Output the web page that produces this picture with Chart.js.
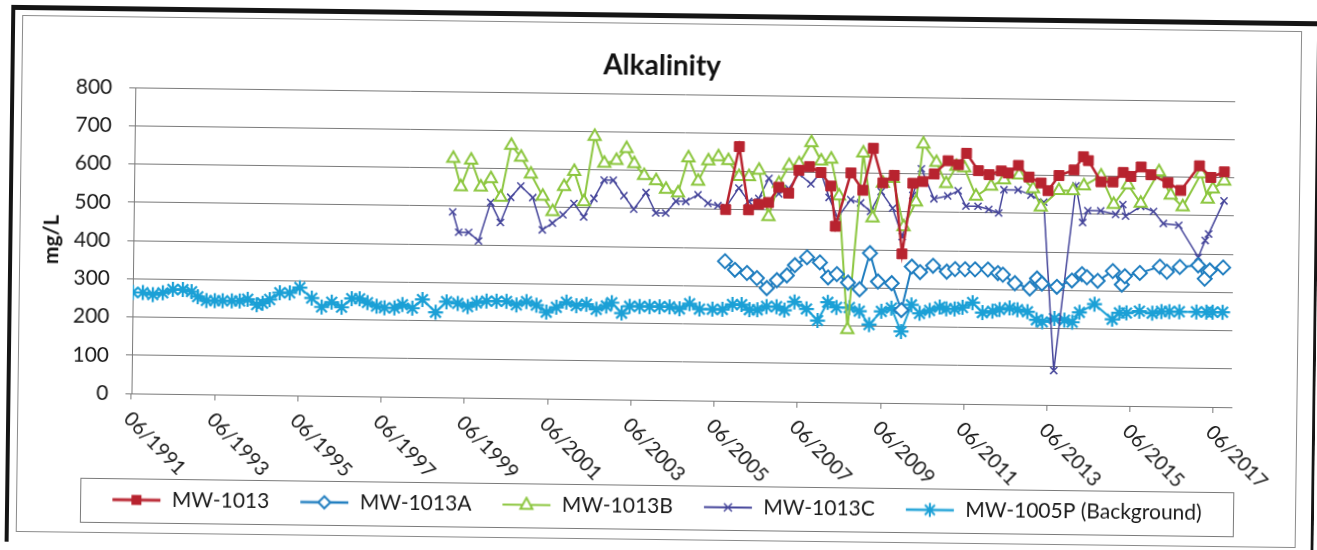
<!DOCTYPE html>
<html>
<head>
<meta charset="utf-8">
<title>Alkalinity</title>
<script src="https://cdn.jsdelivr.net/npm/chart.js@4.4.1/dist/chart.umd.min.js"></script>
<style>
  html, body { margin: 0; padding: 0; background: #fff; overflow: hidden; }
  /* the scanned page is a little skewed, so the whole chart is turned slightly */
  #wrap { position: absolute; left: 0; top: 0; width: 1317px; height: 550px;
          transform: rotate(0.72deg); transform-origin: 658px 275px; }
  canvas { display: block; }
</style>
</head>
<body>
<div id="wrap"><canvas id="chart" width="1317" height="550"></canvas></div>
<script>
// x axis tick labels (MM/YYYY)
const tickLabels = ['06/1991', '06/1993', '06/1995', '06/1997', '06/1999', '06/2001', '06/2003',
                    '06/2005', '06/2007', '06/2009', '06/2011', '06/2013', '06/2015', '06/2017'];

// sample dates are decimal years
const mw1013Dates = [2005.64, 2005.95, 2006.19, 2006.43, 2006.67, 2006.91, 2007.15, 2007.39, 2007.64, 2007.92,
  2008.16, 2008.28, 2008.64, 2008.93, 2009.17, 2009.41, 2009.68, 2009.89, 2010.13, 2010.37,
  2010.64, 2010.97, 2011.22, 2011.41, 2011.70, 2011.96, 2012.25, 2012.42, 2012.66, 2012.92,
  2013.21, 2013.38, 2013.64, 2014.00, 2014.22, 2014.34, 2014.65, 2014.94, 2015.18, 2015.37,
  2015.61, 2015.85, 2016.26, 2016.57, 2017.01, 2017.29, 2017.61];
const mw1013Values = [500, 665, 500, 515, 520, 560, 545, 605, 615, 600,
  565, 460, 600, 555, 665, 575, 595, 390, 575, 580,
  600, 635, 625, 655, 610, 600, 610, 605, 625, 595,
  580, 560, 600, 615, 650, 640, 585, 585, 610, 600,
  625, 605, 585, 565, 630, 600, 615];

const mw1013ADates = [2005.64, 2005.88, 2006.17, 2006.41, 2006.65, 2006.89, 2007.13, 2007.32, 2007.61, 2007.92,
  2008.12, 2008.33, 2008.60, 2008.88, 2009.12, 2009.32, 2009.65, 2009.89, 2010.13, 2010.33,
  2010.64, 2010.97, 2011.17, 2011.41, 2011.65, 2011.96, 2012.20, 2012.32, 2012.61, 2012.97,
  2013.14, 2013.26, 2013.62, 2013.98, 2014.22, 2014.34, 2014.60, 2014.96, 2015.18, 2015.25,
  2015.61, 2016.09, 2016.26, 2016.57, 2017.01, 2017.17, 2017.29, 2017.61];
const mw1013AValues = [365, 343, 335, 322, 296, 317, 330, 357, 378, 365,
  326, 335, 313, 296, 391, 317, 313, 243, 357, 343,
  360, 345, 352, 352, 352, 352, 343, 339, 317, 304,
  330, 317, 309, 326, 343, 335, 326, 352, 317, 339,
  348, 365, 352, 365, 370, 335, 357, 365];

const mw1013BDates = [1999.08, 1999.27, 1999.51, 1999.75, 1999.99, 2000.23, 2000.47, 2000.71, 2000.95, 2001.24,
  2001.48, 2001.75, 2001.99, 2002.23, 2002.47, 2002.71, 2003.00, 2003.24, 2003.43, 2003.67,
  2003.96, 2004.20, 2004.49, 2004.73, 2004.97, 2005.21, 2005.45, 2005.69, 2005.95, 2006.19,
  2006.43, 2006.67, 2006.91, 2007.15, 2007.39, 2007.68, 2007.92, 2008.16, 2008.36, 2008.60,
  2008.93, 2009.17, 2009.41, 2009.65, 2009.92, 2010.21, 2010.37, 2010.69, 2010.93, 2011.17,
  2011.36, 2011.65, 2012.01, 2012.32, 2012.68, 2013.02, 2013.21, 2013.64, 2013.98, 2014.24,
  2014.65, 2014.96, 2015.30, 2015.61, 2016.04, 2016.33, 2016.62, 2017.05, 2017.22, 2017.34,
  2017.61];
const mw1013BValues = [625, 551, 621, 551, 573, 525, 661, 630, 586, 529,
  489, 555, 595, 516, 687, 617, 625, 656, 617, 586,
  573, 551, 542, 634, 573, 627, 638, 628, 587, 587,
  604, 483, 570, 617, 622, 678, 630, 635, 539, 190,
  652, 483, 574, 587, 461, 526, 678, 630, 575, 620,
  617, 543, 570, 587, 600, 565, 517, 561, 561, 574,
  600, 526, 578, 530, 613, 552, 522, 609, 543, 570,
  591];

const mw1013CDates = [1999.08, 1999.23, 1999.47, 1999.71, 1999.99, 2000.23, 2000.47, 2000.71, 2001.00, 2001.24,
  2001.48, 2001.73, 2001.99, 2002.23, 2002.47, 2002.71, 2002.93, 2003.19, 2003.43, 2003.72,
  2003.96, 2004.20, 2004.44, 2004.68, 2004.97, 2005.21, 2005.45, 2005.64, 2005.95, 2006.19,
  2006.43, 2006.67, 2006.91, 2007.15, 2007.39, 2007.68, 2007.92, 2008.12, 2008.33, 2008.64,
  2008.88, 2009.12, 2009.37, 2009.65, 2009.89, 2010.13, 2010.33, 2010.64, 2010.97, 2011.22,
  2011.41, 2011.70, 2011.96, 2012.20, 2012.32, 2012.66, 2012.97, 2013.28, 2013.57, 2014.05,
  2014.22, 2014.34, 2014.65, 2015.01, 2015.18, 2015.25, 2015.61, 2015.92, 2016.16, 2016.53,
  2017.01, 2017.17, 2017.25, 2017.61];
const mw1013CValues = [485, 432, 432, 410, 511, 459, 525, 555, 525, 441,
  459, 481, 511, 476, 525, 573, 573, 533, 498, 542,
  489, 489, 520, 520, 538, 516, 510, 506, 557, 522,
  530, 583, 543, 557, 596, 570, 600, 535, 483, 530,
  522, 500, 552, 509, 435, 543, 613, 535, 543, 557,
  517, 517, 509, 500, 561, 561, 548, 530, 90, 574,
  478, 509, 509, 500, 526, 496, 522, 509, 478, 474,
  391, 435, 452, 539];

const mw1005PDates = [1991.42, 1991.66, 1991.90, 1992.14, 1992.38, 1992.62, 1992.83, 1992.98, 1993.19, 1993.39,
  1993.58, 1993.80, 1993.99, 1994.18, 1994.40, 1994.54, 1994.71, 1994.95, 1995.19, 1995.43,
  1995.72, 1995.96, 1996.20, 1996.44, 1996.68, 1996.87, 1997.06, 1997.28, 1997.47, 1997.71,
  1997.90, 1998.14, 1998.38, 1998.70, 1998.96, 1999.23, 1999.47, 1999.68, 1999.92, 2000.16,
  2000.40, 2000.64, 2000.88, 2001.12, 2001.36, 2001.60, 2001.84, 2002.08, 2002.32, 2002.56,
  2002.80, 2002.93, 2003.17, 2003.36, 2003.60, 2003.84, 2004.08, 2004.32, 2004.56, 2004.80,
  2005.04, 2005.35, 2005.59, 2005.83, 2006.05, 2006.24, 2006.43, 2006.65, 2006.89, 2007.08,
  2007.32, 2007.61, 2007.88, 2008.12, 2008.33, 2008.64, 2008.88, 2009.12, 2009.41, 2009.65,
  2009.89, 2010.13, 2010.33, 2010.57, 2010.81, 2010.97, 2011.17, 2011.36, 2011.60, 2011.84,
  2012.08, 2012.25, 2012.49, 2012.68, 2012.92, 2013.14, 2013.28, 2013.57, 2013.81, 2014.00,
  2014.17, 2014.53, 2014.96, 2015.13, 2015.30, 2015.61, 2015.92, 2016.14, 2016.33, 2016.57,
  2016.98, 2017.22, 2017.37, 2017.61];
const mw1005PValues = [264, 264, 259, 264, 273, 273, 268, 255, 245, 245,
  245, 245, 245, 250, 236, 240, 250, 268, 268, 282,
  255, 232, 245, 232, 255, 255, 245, 236, 232, 232,
  241, 232, 255, 222, 250, 246, 238, 248, 253, 253,
  253, 244, 253, 244, 226, 239, 253, 244, 248, 235,
  244, 253, 226, 244, 244, 244, 244, 244, 239, 253,
  239, 239, 239, 252, 252, 239, 239, 248, 248, 239,
  261, 243, 213, 261, 248, 248, 239, 204, 239, 248,
  187, 257, 235, 243, 252, 248, 248, 252, 265, 239,
  243, 248, 252, 248, 243, 222, 217, 226, 222, 217,
  243, 265, 226, 243, 243, 248, 243, 248, 248, 248,
  248, 248, 248, 248];

const seriesNames = ['MW-1013', 'MW-1013A', 'MW-1013B', 'MW-1013C', 'MW-1005P (Background)'];

const tickValues = tickLabels.map(function(t) {
    const parts = t.split('/');
    return Number(parts[1]) + (Number(parts[0]) - 1) / 12;
});

function points(dates, values) {
    return dates.map(function(d, i) { return { x: d, y: values[i] }; });
}

// little line + marker pictures for the legend
function legendSample(color, marker, lineWidth) {
    const c = document.createElement('canvas');
    c.width = 50;
    c.height = 18;
    const g = c.getContext('2d');
    const cx = 25, cy = 9;
    g.strokeStyle = color;
    g.lineWidth = lineWidth;
    g.beginPath();
    g.moveTo(1, cy);
    g.lineTo(49, cy);
    g.stroke();
    g.lineWidth = 2;
    g.fillStyle = '#fff';
    g.beginPath();
    if (marker === 'rect') {
        g.fillStyle = color;
        g.fillRect(cx - 5, cy - 5, 10, 10);
    } else if (marker === 'diamond') {
        g.moveTo(cx, cy - 6); g.lineTo(cx + 6, cy); g.lineTo(cx, cy + 6); g.lineTo(cx - 6, cy); g.closePath();
        g.fill(); g.stroke();
    } else if (marker === 'triangle') {
        g.moveTo(cx, cy - 7); g.lineTo(cx + 6, cy + 4); g.lineTo(cx - 6, cy + 4); g.closePath();
        g.fill(); g.stroke();
    } else if (marker === 'x') {
        g.lineWidth = 1.5;
        g.moveTo(cx - 4, cy - 4); g.lineTo(cx + 4, cy + 4);
        g.moveTo(cx + 4, cy - 4); g.lineTo(cx - 4, cy + 4);
        g.stroke();
    } else if (marker === 'star') {
        g.moveTo(cx - 5, cy - 5); g.lineTo(cx + 5, cy + 5);
        g.moveTo(cx + 5, cy - 5); g.lineTo(cx - 5, cy + 5);
        g.moveTo(cx, cy - 7); g.lineTo(cx, cy + 7);
        g.stroke();
    }
    return c;
}

const colRed = '#b8232f';
const colBlue = '#1f7dbf';
const colGreen = '#8cc63f';
const colNavy = '#45459a';
const colCyan = '#1ba0d6';

const legendSamples = [
    legendSample(colRed, 'rect', 3),
    legendSample(colBlue, 'diamond', 2.5),
    legendSample(colGreen, 'triangle', 2),
    legendSample(colNavy, 'x', 2),
    legendSample(colCyan, 'star', 2.5)
];

Chart.defaults.font.family = 'Lato';
Chart.defaults.color = '#1a1a1a';

const pagePlugin = {
    id: 'pagePlugin',
    beforeDraw(chart) {
        const ctx = chart.ctx;
        ctx.save();
        ctx.fillStyle = '#fff';
        ctx.fillRect(0, 0, chart.width, chart.height);
        // heavy outer frame of the scanned page
        ctx.fillStyle = '#151515';
        ctx.fillRect(8, 13, 4, chart.height);
        ctx.fillRect(8, 13, chart.width, 5);
        ctx.fillRect(1314, 13, 6, chart.height);
        // chart border
        ctx.strokeStyle = '#8a8a8a';
        ctx.lineWidth = 1;
        ctx.strokeRect(19.5, 23.5, 1279, 516);
        ctx.restore();
    },
    afterDraw(chart) {
        const ctx = chart.ctx;
        const area = chart.chartArea;
        const xs = chart.scales.x;
        ctx.save();
        // slanted date labels, reading down to the right
        ctx.font = '20px Lato';
        ctx.fillStyle = '#1a1a1a';
        ctx.textAlign = 'left';
        ctx.textBaseline = 'middle';
        tickLabels.forEach(function(lab, i) {
            const px = xs.getPixelForValue(tickValues[i]);
            ctx.save();
            ctx.translate(px - 4, area.bottom + 22);
            ctx.rotate(Math.PI / 4);
            ctx.fillText(lab, 0, 0);
            ctx.restore();
        });
        // box round the legend
        const lg = chart.legend;
        ctx.strokeStyle = '#7a7a7a';
        ctx.lineWidth = 1;
        ctx.strokeRect(Math.round(area.left - 50) + 0.5, Math.round(lg.top + 19) + 0.5,
                       Math.round(area.right - area.left + 53), 44);
        ctx.restore();
    }
};

const ctx = document.getElementById('chart').getContext('2d');
new Chart(ctx, {
    type: 'line',
    data: {
        datasets: [{
            label: seriesNames[0],
            data: points(mw1013Dates, mw1013Values),
            borderColor: colRed, backgroundColor: colRed, borderWidth: 2.5,
            pointStyle: 'rect', pointRadius: 7, pointBackgroundColor: colRed, pointBorderColor: colRed, pointBorderWidth: 1
        }, {
            label: seriesNames[1],
            data: points(mw1013ADates, mw1013AValues),
            borderColor: colBlue, backgroundColor: '#fff', borderWidth: 2,
            pointStyle: 'rectRot', pointRadius: 7, pointBackgroundColor: '#fff', pointBorderColor: colBlue, pointBorderWidth: 2
        }, {
            label: seriesNames[2],
            data: points(mw1013BDates, mw1013BValues),
            borderColor: colGreen, backgroundColor: '#fff', borderWidth: 2,
            pointStyle: 'triangle', pointRadius: 7, pointBackgroundColor: '#fff', pointBorderColor: colGreen, pointBorderWidth: 2
        }, {
            label: seriesNames[3],
            data: points(mw1013CDates, mw1013CValues),
            borderColor: colNavy, backgroundColor: colNavy, borderWidth: 1.5,
            pointStyle: 'crossRot', pointRadius: 5, pointBorderColor: colNavy, pointBorderWidth: 1.5
        }, {
            label: seriesNames[4],
            data: points(mw1005PDates, mw1005PValues),
            borderColor: colCyan, backgroundColor: colCyan, borderWidth: 2,
            pointStyle: 'star', pointRadius: 7.5, pointBorderColor: colCyan, pointBorderWidth: 2.2
        }]
    },
    options: {
        responsive: false,
        animation: false,
        layout: { padding: { left: 20, right: 18, top: 24, bottom: 23 } },
        elements: { line: { tension: 0 } },
        plugins: {
            title: {
                display: true,
                text: 'Alkalinity',
                color: '#111',
                font: { size: 28, weight: 'bold' },
                padding: { top: 25.2, bottom: 11.2 }
            },
            legend: {
                position: 'bottom',
                labels: {
                    usePointStyle: true,
                    pointStyleWidth: 50,
                    padding: 30,
                    color: '#1a1a1a',
                    font: { size: 21 },
                    generateLabels: function(chart) {
                        return chart.data.datasets.map(function(ds, i) {
                            return {
                                text: ds.label,
                                pointStyle: legendSamples[i],
                                fontColor: '#1a1a1a',
                                fillStyle: 'transparent',
                                strokeStyle: 'transparent',
                                lineWidth: 0,
                                hidden: false,
                                datasetIndex: i
                            };
                        });
                    }
                }
            },
            tooltip: { enabled: false }
        },
        scales: {
            x: {
                type: 'linear',
                min: 1991.417,
                max: 2017.85,
                afterBuildTicks: function(s) {
                    s.ticks = tickValues.map(function(v) { return { value: v }; });
                },
                afterFit: function(s) { s.height = 66; },
                ticks: { display: false },
                grid: { drawOnChartArea: false, tickLength: 6, color: '#7a7a7a' },
                border: { color: '#7a7a7a' }
            },
            y: {
                min: 0,
                max: 800,
                afterFit: function(s) { s.width = 113; },
                ticks: { stepSize: 100, padding: 17, color: '#1a1a1a', font: { size: 21 } },
                grid: { color: '#7a7a7a', tickLength: 6 },
                border: { color: '#7a7a7a' },
                title: {
                    display: true,
                    text: 'mg/L',
                    color: '#111',
                    font: { size: 21, weight: 'bold' },
                    padding: { top: 19, bottom: 0 }
                }
            },
            // empty axis on the right, only to leave the gap after the plot
            y2: {
                position: 'right',
                afterFit: function(s) { s.width = 66; },
                ticks: { display: false },
                grid: { display: false },
                border: { display: false }
            }
        }
    },
    plugins: [pagePlugin]
});
</script>
</body>
</html>
